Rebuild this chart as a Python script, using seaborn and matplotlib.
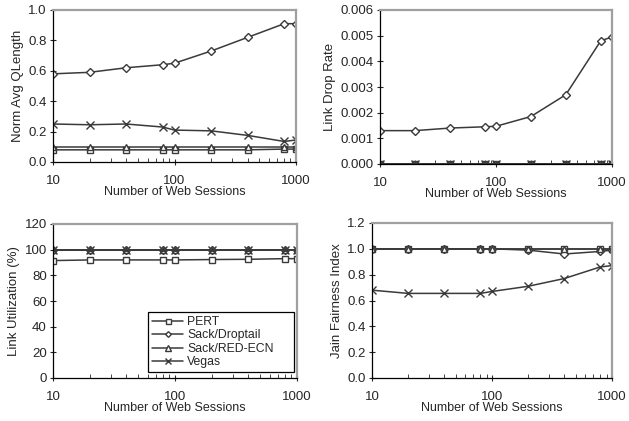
import numpy as np
import pandas as pd
import matplotlib
matplotlib.use("Agg")
import matplotlib.pyplot as plt
import seaborn as sns
from matplotlib.ticker import FixedLocator, FormatStrFormatter, NullFormatter, LogLocator

sns.set_style("ticks")
plt.rcParams['font.family'] = ['Liberation Sans', 'DejaVu Sans']
plt.rcParams['font.size'] = 9

sessions = [10, 20, 40, 80, 100, 200, 400, 800, 1000]
protocols = ["PERT", "Sack/Droptail", "Sack/RED-ECN", "Vegas"]

# Normalized average queue length
q_pert = [0.08, 0.08, 0.08, 0.08, 0.08, 0.08, 0.08, 0.085, 0.085]
q_drop = [0.58, 0.59, 0.62, 0.64, 0.65, 0.73, 0.82, 0.91, 0.91]
q_red = [0.10, 0.10, 0.10, 0.10, 0.10, 0.10, 0.10, 0.10, 0.10]
q_vegas = [0.25, 0.245, 0.25, 0.23, 0.21, 0.205, 0.175, 0.135, 0.145]

# Link drop rate
d_pert = [0, 0, 0, 0, 0, 0, 0, 0, 0]
d_drop = [0.0013, 0.0013, 0.0014, 0.00145, 0.00147, 0.00185, 0.0027, 0.0048, 0.00495]
d_red = [0, 0, 0, 0, 0, 0, 0, 0, 0]
d_vegas = [0, 0, 0, 0, 0, 0, 0, 0, 0]

# Link utilization (%)
u_pert = [91.5, 92, 92, 92, 92, 92.3, 92.5, 93, 93]
u_drop = [100, 100, 100, 100, 100, 100, 100, 100, 100]
u_red = [100, 100, 100, 100, 100, 100, 100, 100, 100]
u_vegas = [99.8, 99.8, 99.8, 99.8, 99.8, 99.8, 99.8, 99.8, 99.8]

# Jain fairness index
j_pert = [1.0, 1.0, 1.0, 1.0, 1.0, 1.0, 1.0, 1.0, 1.0]
j_drop = [1.0, 1.0, 1.0, 1.0, 1.0, 0.99, 0.96, 0.98, 0.99]
j_red = [1.0, 1.0, 1.0, 1.0, 1.0, 1.0, 1.0, 1.0, 1.0]
j_vegas = [0.68, 0.655, 0.655, 0.655, 0.67, 0.71, 0.77, 0.86, 0.87]

panels = [
    ("Norm Avg QLength", [q_pert, q_drop, q_red, q_vegas], (0, 1.0), [0, 0.2, 0.4, 0.6, 0.8, 1.0], "%.1f"),
    ("Link Drop Rate", [d_pert, d_drop, d_red, d_vegas], (0, 0.006), [0, 0.001, 0.002, 0.003, 0.004, 0.005, 0.006], "%.3f"),
    ("Link Utilization (%)", [u_pert, u_drop, u_red, u_vegas], (0, 120), [0, 20, 40, 60, 80, 100, 120], "%d"),
    ("Jain Fairness Index", [j_pert, j_drop, j_red, j_vegas], (0, 1.2), [0, 0.2, 0.4, 0.6, 0.8, 1.0, 1.2], "%.1f"),
]

W, H = 629, 421
boxes = [
    (53, 10, 296, 162),
    (380, 10, 612, 164),
    (53, 224, 297, 378),
    (372, 223, 612, 378),
]

fig = plt.figure(figsize=(W / 100, H / 100), dpi=100)
markers = {"PERT": "s", "Sack/Droptail": "D", "Sack/RED-ECN": "^", "Vegas": "x"}
sizes = {"PERT": 4.5, "Sack/Droptail": 3.6, "Sack/RED-ECN": 5, "Vegas": 6}
lc = "#3a3a3a"

axes = []
for (ylabel, series, ylim, yticks, fmt), (x0, y0, x1, y1) in zip(panels, boxes):
    ax = fig.add_axes([x0 / W, (H - y1) / H, (x1 - x0) / W, (y1 - y0) / H])
    rows = []
    for p, vals in zip(protocols, series):
        for s, v in zip(sessions, vals):
            rows.append({"Sessions": s, "Value": v, "Protocol": p})
    df = pd.DataFrame(rows)
    for p in protocols:
        sub = df[df["Protocol"] == p]
        sns.lineplot(data=sub, x="Sessions", y="Value", ax=ax, color=lc, lw=1.1,
                     marker=markers[p], markersize=sizes[p], markerfacecolor="white",
                     markeredgecolor=lc, markeredgewidth=1.0, label=p, legend=False)
    ax.set_xscale("log")
    ax.set_xlim(10, 1000)
    ax.set_ylim(*ylim)
    ax.yaxis.set_major_locator(FixedLocator(yticks))
    ax.yaxis.set_major_formatter(FormatStrFormatter(fmt))
    ax.xaxis.set_major_locator(FixedLocator([10, 100, 1000]))
    ax.xaxis.set_major_formatter(FormatStrFormatter("%d"))
    ax.xaxis.set_minor_locator(LogLocator(base=10, subs=np.arange(2, 10)))
    ax.xaxis.set_minor_formatter(NullFormatter())
    ax.tick_params(axis="y", which="major", direction="inout", length=5, width=0.8, labelsize=9.5, pad=2)
    ax.tick_params(axis="x", which="major", direction="inout", length=5, width=0.8, labelsize=9.5, pad=7)
    ax.tick_params(axis="x", which="minor", direction="in", length=3, width=0.6)
    ax.set_xlabel("Number of Web Sessions", fontsize=9, labelpad=-1)
    ax.set_ylabel(ylabel, fontsize=9.5, labelpad=3)
    for sp in ["left", "bottom"]:
        ax.spines[sp].set_color("black")
        ax.spines[sp].set_linewidth(0.9)
    for sp in ["top", "right"]:
        ax.spines[sp].set_color("#a0a0a0")
        ax.spines[sp].set_linewidth(1.6)
    axes.append(ax)

ax = axes[2]
handles = ax.get_lines()[:4]
leg = fig.legend(handles=handles, labels=protocols, loc="lower left", mode="expand",
                 bbox_to_anchor=(148 / W, (H - 372) / H, (294 - 148) / W, (372 - 313) / H),
                 fontsize=8.8, frameon=True,
                 fancybox=False, edgecolor="black", framealpha=1, handlelength=2.6,
                 handletextpad=0.3, borderpad=0.3, labelspacing=0.12, borderaxespad=0,
                 markerscale=0.8)
leg.get_frame().set_linewidth(0.9)

fig.savefig("out.png", dpi=100)
